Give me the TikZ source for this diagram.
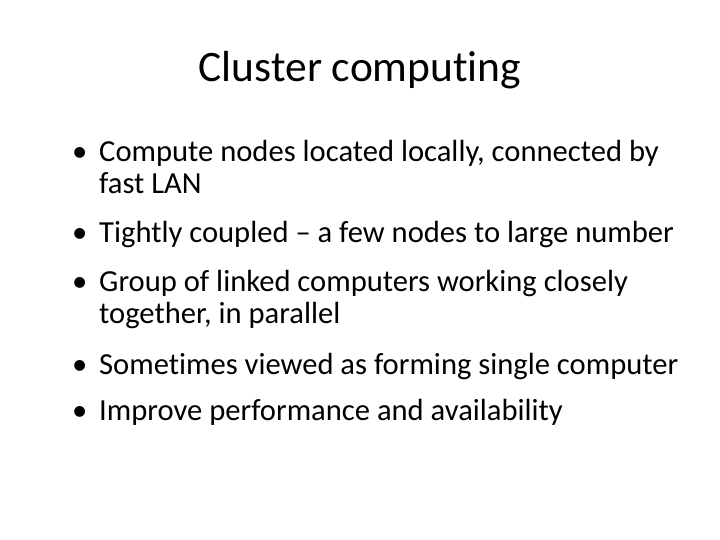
\documentclass[tikz,border=0pt]{standalone}
\usepackage{fontspec}
\setmainfont{Carlito}[Ligatures=NoCommon]
\begin{document}
\begin{tikzpicture}[x=1pt,y=-1pt,
  ttl/.style={anchor=base,font=\fontsize{43.5}{46}\selectfont},
  txt/.style={anchor=base west,inner sep=0pt,font=\fontsize{30.6}{33}\selectfont},
  bul/.style={anchor=base west,inner sep=0pt,font=\fontsize{30.6}{33}\selectfont}]
\useasboundingbox[fill=white] (0,0) rectangle (720,540);
\node[ttl] (title) at (360,82) {Cluster computing};
\foreach \n/\y in {1/162,2/243,3/291,4/374,5/420}{
  \node[bul] (b\n) at (72,\y) {•};
}
\node[txt] (t1) at (99,162) {Compute nodes located locally, connected by};
\node[txt] (t1b) at (99,194) {fast LAN};
\node[txt] (t2) at (99,243) {Tightly coupled – a few nodes to large number};
\node[txt] (t3) at (99,291) {Group of linked computers working closely};
\node[txt] (t3b) at (99,323) {together, in parallel};
\node[txt] (t4) at (99,374) {Sometimes viewed as forming single computer};
\node[txt] (t5) at (99,420) {Improve performance and availability};
\end{tikzpicture}
\end{document}
